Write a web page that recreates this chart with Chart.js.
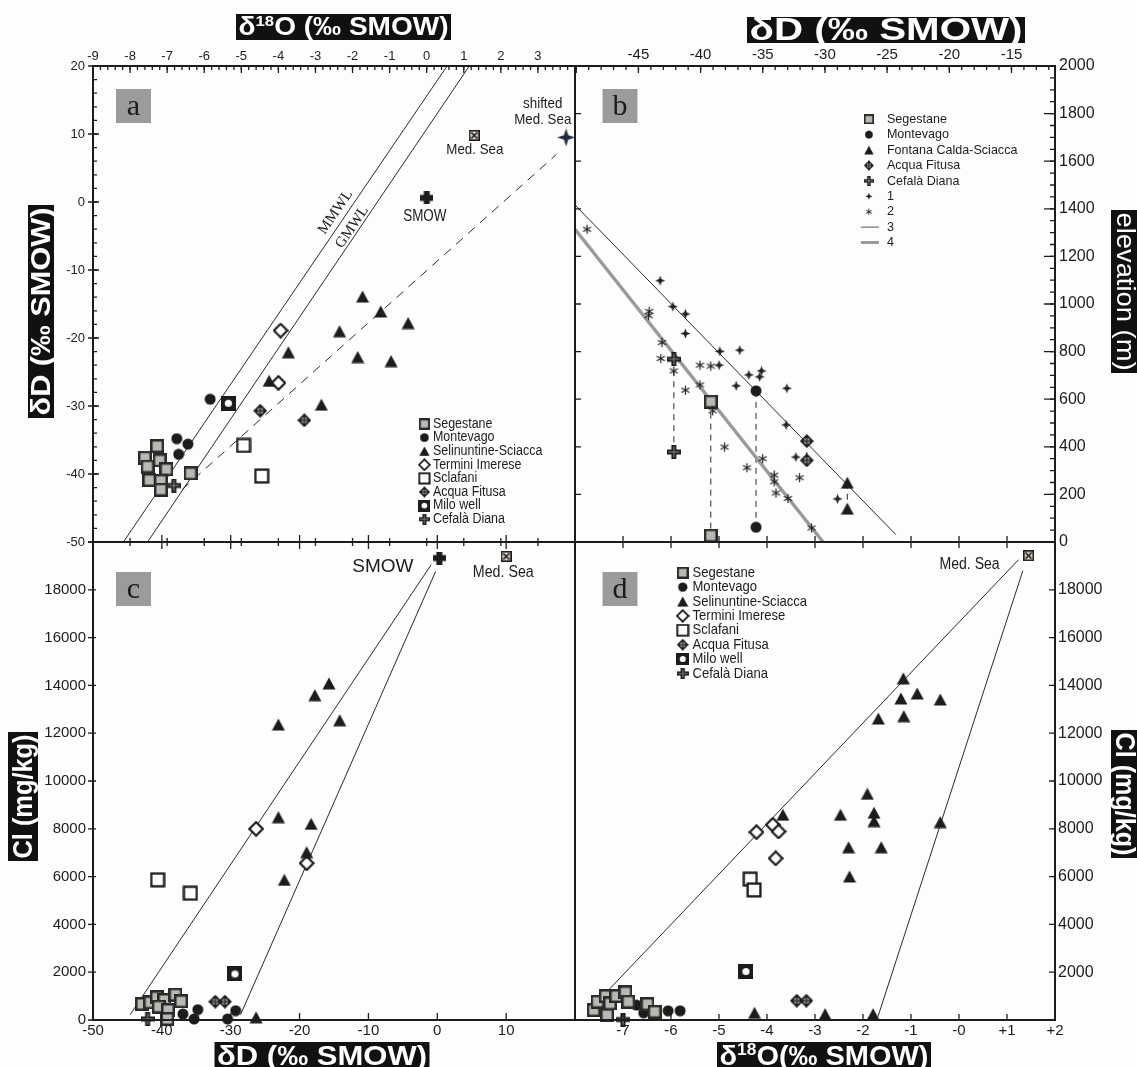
<!DOCTYPE html>
<html>
<head>
<meta charset="utf-8">
<title>Isotopes and chloride</title>
<script src="https://cdn.jsdelivr.net/npm/chart.js@4.4.1/dist/chart.umd.min.js"></script>
<style>
  html, body { margin: 0; padding: 0; background: #fdfdfb; }
  #page { position: relative; width: 1137px; height: 1067px; overflow: hidden; }
  #page canvas { position: absolute; left: 0; top: 0; width: 1137px; height: 1067px; }
</style>
</head>
<body>
<div id="page">
  <canvas id="pa" width="1137" height="1067"></canvas>
  <canvas id="pb" width="1137" height="1067"></canvas>
  <canvas id="pc" width="1137" height="1067"></canvas>
  <canvas id="pd" width="1137" height="1067"></canvas>
</div>
<script>
// ---- panel a : d18O (x) vs dD (y) ----
const aSegestane = [[-7.60,-37.6],[-7.27,-35.9],[-7.53,-38.9],[-7.20,-38.0],[-7.02,-39.3],[-7.48,-40.9],[-7.17,-41.0],[-7.17,-42.3],[-6.37,-39.9]];
const aMontevago = [[-5.84,-29.0],[-6.74,-34.8],[-6.69,-37.1],[-6.44,-35.6]];
const aSelinuntine = [[-1.73,-13.9],[-1.24,-16.1],[-0.50,-17.8],[-2.35,-19.0],[-3.73,-22.1],[-1.86,-22.8],[-0.96,-23.4],[-4.25,-26.3],[-2.84,-29.8]];
const aTermini = [[-3.94,-18.9],[-4.00,-26.6]];
const aSclafani = [[-4.94,-35.8],[-4.45,-40.3]];
const aAcqua = [[-4.49,-30.7],[-3.30,-32.1]];
const aMilo = [[-5.35,-29.6]];
const aCefala = [[-6.82,-41.7]];
const aSmow = [[0.0,0.6]];
const aMedSea = [[1.28,9.8]];
const aShifted = [[3.76,9.5]];
const aMMWL = [[-8.18,-50],[0.55,20]];
const aGMWL = [[-7.53,-50],[1.15,20]];
const aMixing = [[-6.6,-42.3],[3.5,7.0]];

// ---- panel b : dD (x) vs elevation (y) ----
const bSegestane = [[-39.18,590],[-39.18,27]];
const bMontevago = [[-35.54,635],[-35.54,62]];
const bFontana = [[-28.2,249],[-28.2,140]];
const bAcqua = [[-31.46,424],[-31.46,343]];
const bCefala = [[-42.15,768],[-42.15,378]];
const bSeries1 = [[-43.25,1098],[-42.23,989],[-41.22,958],[-41.22,876],[-38.45,801],[-36.85,806],[-38.51,743],
  [-36.12,702],[-35.25,694],[-35.10,719],[-37.14,656],[-33.06,646],[-33.12,492],[-32.34,357],[-28.99,181]];
const bSeries2 = [[-49.13,1314],[-44.13,969],[-44.18,951],[-43.11,838],[-43.20,771],[-42.15,719],[-41.22,638],
  [-40.05,743],[-39.18,739],[-40.05,660],[-39.03,551],[-38.07,399],[-36.27,312],[-35.01,350],[-34.08,281],
  [-34.08,253],[-33.94,206],[-32.98,183],[-32.04,270],[-31.08,59]];
const bLine3 = [[-50.1,1416],[-24.3,31]];
const bLine4 = [[-50.1,1314],[-30.15,0]];

// ---- panel c : dD (x) vs Cl (y) ----
const cSegestane = [[-42.88,670],[-41.69,740],[-40.72,949],[-39.64,838],[-40.45,558],[-39.10,419],[-39.21,42],[-38.02,1061],[-37.21,782]];
const cMontevago = [[-36.94,251],[-35.32,42],[-34.78,433],[-30.46,42],[-29.28,391]];
const cSelinuntine = [[-15.73,14083],[-17.78,13593],[-23.07,12362],[-14.17,12544],[-23.07,8488],[-18.32,8208],[-18.97,7022],[-22.21,5863],[-26.31,112]];
const cTermini = [[-26.31,7999],[-18.97,6561]];
const cSclafani = [[-40.61,5863],[-35.86,5305]];
const cAcqua = [[-32.24,768],[-30.84,768]];
const cMilo = [[-29.38,1926]];
const cCefala = [[-42.07,42]];
const cSmow = [[0.3,19329]];
const cMedSea = [[10.0,19399]];
const cLine1 = [[-44.6,223],[-0.89,19049]];
const cLine2 = [[-28.57,223],[-0.24,18769]];

// ---- panel d : d18O (x) vs Cl (y) ----
const dSegestane = [[-7.61,413],[-7.53,764],[-7.36,1001],[-7.33,202],[-7.27,694],[-7.14,1001],[-6.95,1157],[-6.89,764],[-6.49,666],[-6.34,343]];
const dMontevago = [[-6.72,624],[-6.57,301],[-6.06,385],[-5.81,385]];
const dSelinuntine = [[-1.16,14293],[-1.21,13453],[-0.87,13663],[-0.39,13411],[-1.68,12614],[-1.15,12712],[-1.91,9466],
  [-3.67,8590],[-2.47,8590],[-1.77,8674],[-1.77,8323],[-0.39,8281],[-2.30,7227],[-1.62,7227],[-2.28,6005],
  [-4.26,301],[-2.79,244],[-1.79,244]];
const dTermini = [[-4.22,7860],[-3.88,8169],[-3.76,7888],[-3.82,6764]];
const dSclafani = [[-4.35,5892],[-4.27,5443]];
const dAcqua = [[-3.38,807],[-3.18,807]];
const dMilo = [[-4.44,2029]];
const dCefala = [[-7.00,20]];
const dMedSea = [[1.45,19427]];
const dLine1 = [[-7.30,1256],[1.24,19259]];
const dLine2 = [[-1.69,132],[1.33,18797]];

// ---- texts ----
const groupsA = ['Segestane','Montevago','Selinuntine-Sciacca','Termini Imerese','Sclafani','Acqua Fitusa','Milo well','Cefalà Diana'];
const groupsB = ['Segestane','Montevago','Fontana Calda-Sciacca','Acqua Fitusa','Cefalà Diana','1','2','3','4'];
const titleO18 = [{t:'δ'},{t:'18',sup:true},{t:'O (‰ SMOW)'}];
const titleO18b = [{t:'δ'},{t:'18',sup:true},{t:'O(‰ SMOW)'}];
const titleD = [{t:'δD (‰ SMOW)'}];
const titleCl = [{t:'Cl (mg/kg)'}];
const titleElev = [{t:'elevation (m)'}];

const SANS = '"Liberation Sans", Arial, Helvetica, sans-serif';
const SERIF = '"Liberation Serif", "Times New Roman", serif';
const INK = '#1c1c1c';

// ---- marker images ----
function mk(w, h, fn) {
  const c = document.createElement('canvas');
  c.width = w; c.height = h;
  fn(c.getContext('2d'), w, h);
  return c;
}
function star4(g, cx, cy, r, w, col) {
  g.fillStyle = col;
  g.beginPath();
  g.moveTo(cx, cy - r); g.lineTo(cx + w, cy - w); g.lineTo(cx + r, cy); g.lineTo(cx + w, cy + w);
  g.lineTo(cx, cy + r); g.lineTo(cx - w, cy + w); g.lineTo(cx - r, cy); g.lineTo(cx - w, cy - w);
  g.closePath(); g.fill();
}
const M = {
  seg: mk(14, 14, g => { g.fillStyle = '#2a2a2a'; g.fillRect(0, 0, 14, 14); g.fillStyle = '#b8b8b4'; g.fillRect(2.5, 2.5, 9, 9); }),
  circ: mk(12, 12, g => { g.fillStyle = INK; g.beginPath(); g.arc(6, 6, 5.5, 0, Math.PI * 2); g.fill(); }),
  tri: mk(14, 13, g => { g.fillStyle = INK; g.beginPath(); g.moveTo(7, 0.5); g.lineTo(13.5, 12.5); g.lineTo(0.5, 12.5); g.closePath(); g.fill(); }),
  diam: mk(16, 16, g => {
    g.beginPath(); g.moveTo(8, 1.3); g.lineTo(14.7, 8); g.lineTo(8, 14.7); g.lineTo(1.3, 8); g.closePath();
    g.fillStyle = '#fff'; g.fill(); g.lineWidth = 2.2; g.strokeStyle = INK; g.stroke();
  }),
  sq: mk(16, 16, g => { g.fillStyle = '#fff'; g.fillRect(1, 1, 14, 14); g.lineWidth = 2.3; g.strokeStyle = INK; g.strokeRect(1.6, 1.6, 12.8, 12.8); }),
  acq: mk(14, 14, g => {
    g.fillStyle = INK; g.beginPath(); g.moveTo(7, 0); g.lineTo(14, 7); g.lineTo(7, 14); g.lineTo(0, 7); g.closePath(); g.fill();
    g.fillStyle = '#8a8a8a'; g.beginPath(); g.arc(7, 7, 3.2, 0, Math.PI * 2); g.fill();
    g.fillStyle = INK; g.fillRect(6.5, 2.5, 1, 9); g.fillRect(2.5, 6.5, 9, 1);
  }),
  milo: mk(15, 15, g => { g.fillStyle = INK; g.fillRect(0, 0, 15, 15); g.fillStyle = '#fff'; g.beginPath(); g.arc(7.5, 7.5, 3.6, 0, Math.PI * 2); g.fill(); }),
  cef: mk(14, 14, g => {
    g.fillStyle = INK; g.fillRect(4.5, 0, 5, 14); g.fillRect(0, 4.5, 14, 5);
    g.fillStyle = '#8a8a8a'; g.fillRect(6.5, 1.5, 1, 11); g.fillRect(1.5, 6.5, 11, 1);
  }),
  smow: mk(13, 13, g => { g.fillStyle = INK; g.fillRect(3.5, 0, 6, 13); g.fillRect(0, 3.5, 13, 6); }),
  med: mk(11, 11, g => {
    g.fillStyle = '#e2d8ce'; g.fillRect(0, 0, 11, 11);
    g.strokeStyle = INK; g.lineWidth = 1.6; g.strokeRect(0.8, 0.8, 9.4, 9.4);
    g.beginPath(); g.moveTo(2.5, 2.5); g.lineTo(8.5, 8.5); g.moveTo(8.5, 2.5); g.lineTo(2.5, 8.5); g.stroke();
  }),
  shift: mk(19, 19, g => star4(g, 9.5, 9.5, 9, 2.2, '#1f2d3d')),
  s1: mk(11, 11, g => star4(g, 5.5, 5.5, 5, 1.4, '#222')),
  s2: mk(11, 11, g => {
    g.strokeStyle = '#222'; g.lineWidth = 1.2;
    for (const a of [90, 30, 150]) {
      const r = a * Math.PI / 180;
      g.beginPath(); g.moveTo(5.5 - 4.6 * Math.cos(r), 5.5 - 4.6 * Math.sin(r)); g.lineTo(5.5 + 4.6 * Math.cos(r), 5.5 + 4.6 * Math.sin(r)); g.stroke();
    }
  })
};
const marksA = [M.seg, M.circ, M.tri, M.diam, M.sq, M.acq, M.milo, M.cef];

// ---- helpers ----
function xy(arr) { return arr.map(([x, y]) => ({x, y})); }
function pts(arr, img) { return {type: 'scatter', data: xy(arr), pointStyle: img, pointRadius: 6, clip: false, order: 1}; }
function seg(arr, color, width, dash) {
  return {type: 'line', data: xy(arr), borderColor: color, borderWidth: width, borderDash: dash || [],
    pointRadius: 0, fill: false, tension: 0, clip: false, order: 5};
}
function axis(pos, min, max, step, size, font, pad, show) {
  const horiz = pos === 'top' || pos === 'bottom';
  return {
    type: 'linear', position: pos, min: min, max: max,
    grid: {display: false, drawTicks: false}, border: {display: false},
    ticks: {stepSize: step, includeBounds: false, autoSkip: false, maxRotation: 0, padding: pad,
      color: INK, font: {family: SANS, size: font}, callback: v => show(v)},
    afterFit(s) {
      if (horiz) s.height = size; else s.width = size;
      s.paddingLeft = s.paddingRight = s.paddingTop = s.paddingBottom = 0;
    }
  };
}
function px(ch, x, y) { return [ch.scales.x.getPixelForValue(x), ch.scales.y.getPixelForValue(y)]; }

function txt(ctx, s, x, y, o) {
  o = o || {};
  ctx.save();
  ctx.translate(x, y);
  if (o.rot) ctx.rotate(o.rot);
  ctx.scale(o.sx || 1, 1);
  ctx.font = `${o.style || 'normal'} ${o.size || 14}px ${o.family || SANS}`;
  ctx.fillStyle = o.color || INK;
  ctx.textAlign = o.align || 'center';
  ctx.textBaseline = 'middle';
  ctx.fillText(s, 0, 0);
  ctx.restore();
}
function frame(ch) {
  const c = ch.chartArea, ctx = ch.ctx;
  ctx.save(); ctx.strokeStyle = INK; ctx.lineWidth = 2;
  ctx.strokeRect(c.left, c.top, c.right - c.left, c.bottom - c.top);
  ctx.restore();
}
// tick marks along one edge, positions from the chart's own scale
function tk(ch, ax, edge, step, inL, outL) {
  const s = ch.scales[ax], ca = ch.chartArea, ctx = ch.ctx;
  const start = Math.ceil(s.min / step - 1e-6);
  ctx.save(); ctx.strokeStyle = INK; ctx.lineWidth = 1.3; ctx.beginPath();
  for (let i = start; i * step <= s.max + 1e-6; i++) {
    const p = s.getPixelForValue(i * step);
    if (edge === 'top') { ctx.moveTo(p, ca.top - outL); ctx.lineTo(p, ca.top + inL); }
    else if (edge === 'bottom') { ctx.moveTo(p, ca.bottom + outL); ctx.lineTo(p, ca.bottom - inL); }
    else if (edge === 'left') { ctx.moveTo(ca.left - outL, p); ctx.lineTo(ca.left + inL, p); }
    else { ctx.moveTo(ca.right + outL, p); ctx.lineTo(ca.right - inL, p); }
  }
  ctx.stroke(); ctx.restore();
}
function letterBox(ctx, ch, box) {
  const [x, y, w, h] = box;
  ctx.save();
  ctx.fillStyle = '#9b9b9b'; ctx.fillRect(x, y, w, h);
  ctx.fillStyle = '#1a1a1a'; ctx.font = `30px ${SERIF}`;
  ctx.textAlign = 'center'; ctx.textBaseline = 'alphabetic';
  ctx.fillText(ch, x + w / 2, y + h * 0.76);
  ctx.restore();
}
// black box with white text, squeezed to the box length
function titleBox(ctx, parts, box, rot, weight, size) {
  const [bx, by, bw, bh] = box;
  ctx.save();
  ctx.fillStyle = '#111'; ctx.fillRect(bx, by, bw, bh);
  ctx.translate(bx + bw / 2, by + bh / 2);
  ctx.rotate(rot * Math.PI / 180);
  const len = rot ? bh : bw;
  const f = sz => `${weight} ${sz}px ${SANS}`;
  let total = 0;
  for (const p of parts) { ctx.font = f(p.sup ? size * 0.6 : size); total += ctx.measureText(p.t).width; }
  ctx.scale((len - 5) / total, 1);
  ctx.fillStyle = '#fff'; ctx.textBaseline = 'middle'; ctx.textAlign = 'left';
  let x = -total / 2;
  for (const p of parts) {
    ctx.font = f(p.sup ? size * 0.6 : size);
    ctx.fillText(p.t, x, p.sup ? -size * 0.22 : size * 0.05);
    x += ctx.measureText(p.t).width;
  }
  ctx.restore();
}
function drawLegend(ctx, items, x, y, dy, gap, size, sx) {
  items.forEach((it, i) => {
    const yy = y + i * dy;
    if (it.img) {
      const k = it.k || 1, w = it.img.width * k, h = it.img.height * k;
      ctx.drawImage(it.img, x - w / 2, yy - h / 2, w, h);
    } else {
      ctx.save(); ctx.strokeStyle = it.color; ctx.lineWidth = it.lw;
      ctx.beginPath(); ctx.moveTo(x - 8, yy); ctx.lineTo(x + 10, yy); ctx.stroke(); ctx.restore();
    }
    txt(ctx, it.label, x + gap, yy, {size: size, sx: sx, align: 'left'});
  });
}

const DRAW = {};
Chart.register({id: 'deco', afterDatasetsDraw(chart) { const f = DRAW[chart.canvas.id]; if (f) f(chart, chart.ctx); }});

function make(id, pad, xs, ys, datasets, draw) {
  DRAW[id] = draw;
  return new Chart(document.getElementById(id), {
    type: 'scatter',
    data: {datasets: datasets},
    options: {
      responsive: false, animation: false, events: [],
      layout: {padding: pad},
      plugins: {legend: {display: false}, tooltip: {enabled: false}},
      scales: {x: xs, y: ys}
    }
  });
}

// ---- panel a ----
make('pa', {left: 53, top: 26, right: 562, bottom: 525},
  axis('top', -9, 4, 1, 40, 13, 2, v => v > 3.5 ? '' : String(v)),
  axis('left', -50, 20, 10, 40, 13, 8, v => String(v)),
  [
    seg(aMMWL, '#2a2a2a', 1), seg(aGMWL, '#2a2a2a', 1), seg(aMixing, '#2a2a2a', 1, [9, 7]),
    pts(aSegestane, M.seg), pts(aMontevago, M.circ), pts(aSelinuntine, M.tri), pts(aTermini, M.diam),
    pts(aSclafani, M.sq), pts(aAcqua, M.acq), pts(aMilo, M.milo), pts(aCefala, M.cef),
    pts(aSmow, M.smow), pts(aMedSea, M.med), pts(aShifted, M.shift)
  ],
  (ch, ctx) => {
    frame(ch);
    tk(ch, 'x', 'top', 1, 7, 0); tk(ch, 'x', 'top', 0.2, 4, 0);
    tk(ch, 'y', 'left', 10, 6, 5); tk(ch, 'y', 'left', 2, 4, 0);
    tk(ch, 'x', 'bottom', 1, 4, 4);
    letterBox(ctx, 'a', [116, 89, 35, 34]);
    titleBox(ctx, titleO18, [236, 14, 215, 26], 0, 'bold', 25);
    titleBox(ctx, titleD, [28, 205, 26, 213], -90, 'bold', 28);
    let p = px(ch, 3.13, 14.4); txt(ctx, 'shifted', p[0], p[1], {size: 15, sx: 0.89});
    p = px(ch, 3.13, 12.1); txt(ctx, 'Med. Sea', p[0], p[1], {size: 15, sx: 0.89});
    p = px(ch, 1.30, 7.7); txt(ctx, 'Med. Sea', p[0], p[1], {size: 15, sx: 0.89});
    p = px(ch, -0.05, -2.2); txt(ctx, 'SMOW', p[0], p[1], {size: 16, sx: 0.84});
    const q1 = px(ch, aMMWL[0][0], aMMWL[0][1]), q2 = px(ch, aMMWL[1][0], aMMWL[1][1]);
    const ang = Math.atan2(q2[1] - q1[1], q2[0] - q1[0]);
    p = px(ch, -2.46, -1.5); txt(ctx, 'MMWL', p[0], p[1], {size: 15, family: SERIF, rot: ang});
    p = px(ch, -2.01, -3.7); txt(ctx, 'GMWL', p[0], p[1], {size: 15, family: SERIF, rot: ang});
    drawLegend(ctx, groupsA.map((l, i) => ({label: l, img: marksA[i], k: 0.8})), 424.4, 424, 13.6, 8.5, 14, 0.89);
  });

// ---- panel b ----
const marksB = [M.seg, M.circ, M.tri, M.acq, M.cef, M.s1, M.s2];
make('pb', {left: 575, top: 26, right: 32, bottom: 525},
  axis('top', -50.1, -11.5, 5, 40, 15, 2, v => v < -48 ? '' : String(v)),
  axis('right', 0, 2000, 200, 50, 16, 4, v => String(v)),
  [
    seg(bLine4, '#9a9a9a', 3.5), seg(bLine3, '#2a2a2a', 1),
    seg(bSegestane, '#2a2a2a', 1, [6, 5]), seg(bMontevago, '#2a2a2a', 1, [6, 5]), seg(bCefala, '#2a2a2a', 1, [6, 5]),
    seg(bAcqua, '#2a2a2a', 1, [6, 5]), seg(bFontana, '#2a2a2a', 1, [6, 5]),
    pts(bSeries2, M.s2), pts(bSeries1, M.s1),
    pts(bSegestane, M.seg), pts(bMontevago, M.circ), pts(bFontana, M.tri), pts(bAcqua, M.acq), pts(bCefala, M.cef)
  ],
  (ch, ctx) => {
    frame(ch);
    tk(ch, 'x', 'top', 5, 7, 0); tk(ch, 'x', 'top', 1, 4, 0);
    tk(ch, 'y', 'right', 200, 11, 0); tk(ch, 'y', 'right', 50, 5, 0);
    tk(ch, 'y', 'left', 200, 6, 0);
    letterBox(ctx, 'b', [602.5, 89, 35, 34]);
    titleBox(ctx, titleD, [747, 17, 278, 26], 0, 'bold', 32);
    titleBox(ctx, titleElev, [1111, 210, 28, 163], 90, 'normal', 26);
    const items = groupsB.map((l, i) => i < 7 ? {label: l, img: marksB[i], k: 0.72} :
      {label: l, color: i === 7 ? '#555' : '#9a9a9a', lw: i === 7 ? 1 : 3});
    drawLegend(ctx, items, 868.9, 119.3, 15.4, 18, 13.5, 0.93);
  });

// ---- panel c ----
make('pc', {left: 33, top: 542, right: 562, bottom: 22},
  axis('bottom', -50, 20, 10, 25, 15, 2, v => v > 15 ? '' : String(v)),
  axis('left', 0, 20000, 2000, 60, 15, 7, v => v > 19000 ? '' : String(v)),
  [
    seg(cLine1, '#2a2a2a', 1), seg(cLine2, '#2a2a2a', 1),
    pts(cSegestane, M.seg), pts(cMontevago, M.circ), pts(cSelinuntine, M.tri), pts(cTermini, M.diam),
    pts(cSclafani, M.sq), pts(cAcqua, M.acq), pts(cMilo, M.milo), pts(cCefala, M.cef),
    pts(cSmow, M.smow), pts(cMedSea, M.med)
  ],
  (ch, ctx) => {
    frame(ch);
    tk(ch, 'y', 'left', 2000, 3, 5);
    tk(ch, 'x', 'bottom', 10, 7, 0);
    tk(ch, 'x', 'top', 10, 7, 7);
    letterBox(ctx, 'c', [116, 572, 35, 34]);
    titleBox(ctx, titleCl, [8, 732, 30, 129], -90, 'bold', 28);
    titleBox(ctx, titleD, [214.5, 1042, 215, 28], 0, 'bold', 27);
    let p = px(ch, -7.9, 18951); txt(ctx, 'SMOW', p[0], p[1], {size: 19});
    p = px(ch, 9.58, 18727); txt(ctx, 'Med. Sea', p[0], p[1], {size: 16, sx: 0.89});
  });

// ---- panel d ----
make('pd', {left: 575, top: 542, right: 22, bottom: 22},
  axis('bottom', -8, 2, 1, 25, 15, 2, v => v < -7.5 ? '' : (v > 0 ? '+' + v : (v === 0 ? '-0' : String(v)))),
  axis('right', 0, 20000, 2000, 60, 16, 3, v => (v < 1000 || v > 19000) ? '' : String(v)),
  [
    seg(dLine1, '#2a2a2a', 1), seg(dLine2, '#2a2a2a', 1),
    pts(dSegestane, M.seg), pts(dMontevago, M.circ), pts(dSelinuntine, M.tri), pts(dTermini, M.diam),
    pts(dSclafani, M.sq), pts(dAcqua, M.acq), pts(dMilo, M.milo), pts(dCefala, M.cef), pts(dMedSea, M.med)
  ],
  (ch, ctx) => {
    frame(ch);
    tk(ch, 'y', 'right', 2000, 6, 0);
    tk(ch, 'x', 'bottom', 1, 6, 0);
    tk(ch, 'x', 'top', 1, 6, 6);
    letterBox(ctx, 'd', [602.5, 572, 35, 34]);
    titleBox(ctx, titleCl, [1111, 730, 28, 128], 90, 'bold', 28);
    titleBox(ctx, titleO18b, [717, 1042, 214, 28], 0, 'bold', 27);
    const p = px(ch, 0.22, 19049); txt(ctx, 'Med. Sea', p[0], p[1], {size: 16, sx: 0.88});
    drawLegend(ctx, groupsA.map((l, i) => ({label: l, img: marksA[i], k: 0.85})), 682.7, 572.7, 14.4, 9.8, 15, 0.87);
  });
</script>
</body>
</html>
